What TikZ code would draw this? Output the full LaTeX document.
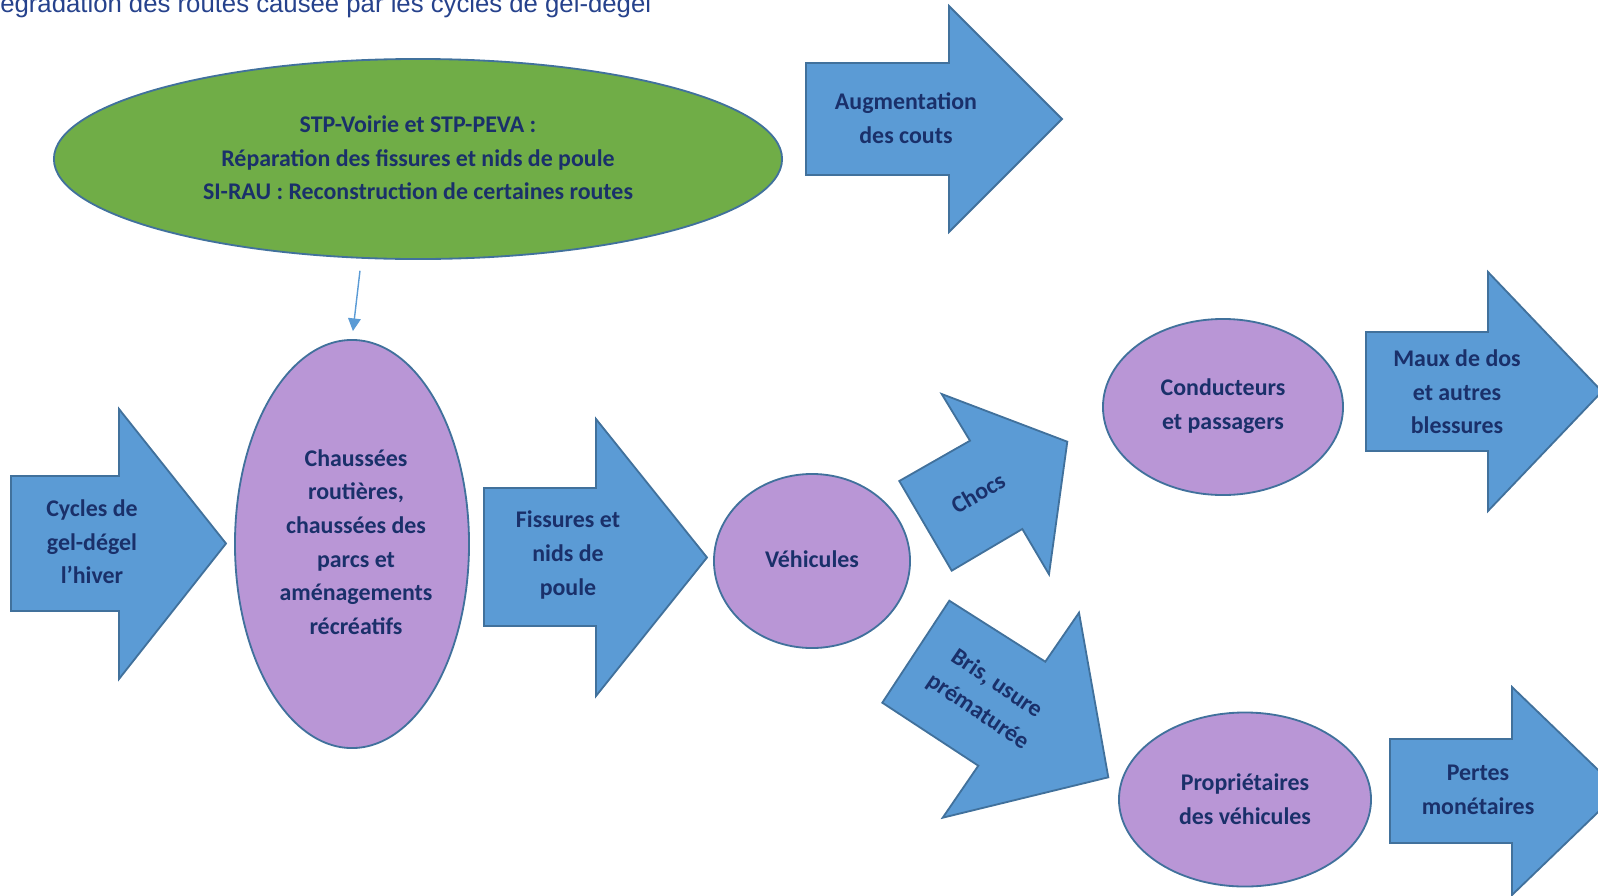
\documentclass[tikz,border=0pt]{standalone}
\usepackage{fontspec}
\setmainfont{Carlito}
\newfontfamily\titlefont{Liberation Sans}
\usetikzlibrary{shapes.geometric, arrows.meta}
\definecolor{arrowblue}{RGB}{91,155,213}
\definecolor{edgeblue}{RGB}{65,113,156}
\definecolor{lilac}{RGB}{185,150,214}
\definecolor{leafgreen}{RGB}{112,173,71}
\definecolor{navytext}{RGB}{26,48,106}
\definecolor{titleblue}{RGB}{38,66,140}

\begin{document}
\begin{tikzpicture}[
        x=0.025cm, y=-0.025cm,
        bigarrow/.style={draw=edgeblue, fill=arrowblue, line width=1.3pt, line join=miter},
        oval/.style={ellipse, draw=edgeblue, fill=lilac, line width=1.3pt, inner sep=0pt},
        inside/.style={text=navytext, font=\fontsize{17}{23.9}\selectfont\bfseries, align=center, inner sep=0pt},
        link/.style={-{Triangle[width=9pt, length=9pt]}, draw=arrowblue, line width=1pt}
    ]
        \useasboundingbox (0,0) rectangle (1598,895);
        \clip (0,0) rectangle (1598,895);

        % Title (cut at the edge)
        \node[anchor=base west, inner sep=0pt, text=titleblue, font=\titlefont\fontsize{18.3}{22}\selectfont] (title) at (0,12) {égradation des routes causée par les cycles de gel-dégel};

        % Left part
        \draw[bigarrow] (11,476) -- (119,476) -- (119,409) -- (226,543.5) -- (119,679) -- (119,611) -- (11,611) -- cycle;
        \node[inside] (cycles) at (92,542) {Cycles de\\gel-dégel\\l’hiver};

        \node[oval, minimum width=5.85cm, minimum height=10.2cm] (chaussees) at (352,544) {};
        \node[inside] (chaussees_t) at (356,542) {Chaussées\\routières,\\chaussées des\\parcs et\\aménagements\\récréatifs};

        \node[oval, fill=leafgreen, minimum width=18.2cm, minimum height=5cm] (travaux) at (418,159) {};
        \node[inside] (travaux_t) at (418,158) {STP-Voirie et STP-PEVA :\\Réparation des fissures et nids de poule\\SI-RAU : Reconstruction de certaines routes};

        \draw[link, shorten >=5.7pt] ([xshift=-1.45cm, yshift=-0.27cm]travaux.south) -- (chaussees.north);

        \draw[bigarrow] (484,488) -- (596,488) -- (596,419) -- (707,557.5) -- (596,696) -- (596,626) -- (484,626) -- cycle;
        \node[inside] (fissures) at (568,555) {Fissures et\\nids de\\poule};

        \draw[bigarrow] (806,63) -- (949,63) -- (949,6) -- (1062,119) -- (949,232) -- (949,175) -- (806,175) -- cycle;
        \node[inside] (couts) at (906,118) {Augmentation\\des couts};

        % Middle part
        \node[oval, minimum width=4.9cm, minimum height=4.35cm] (vehicules) at (812,561) {};
        \node[inside] (vehicules_t) at (812,559) {Véhicules};

        \draw[bigarrow] (941.7,394) -- (970,440.7) -- (899.3,481) -- (951.7,570.7) -- (1022.3,529) -- (1049,574.3) -- (1067.3,441.7) -- cycle;
        \node[inside, rotate=30] (chocs) at (978,493) {Chocs};

        \draw[bigarrow] (949.3,600.7) -- (1045.3,661.7) -- (1079,612.7) -- (1108.3,777.3) -- (942.7,817.7) -- (978.3,765.7) -- (882.3,702.7) -- cycle;
        \node[inside, rotate=-34] (bris) at (987,698) {Bris, usure\\prématurée};

        % Right part
        \node[oval, minimum width=6cm, minimum height=4.4cm] (conducteurs) at (1223,407) {};
        \node[inside] (conducteurs_t) at (1223,406) {Conducteurs\\et passagers};

        \draw[bigarrow] (1366,332) -- (1488,332) -- (1488,272) -- (1602,391.5) -- (1488,511) -- (1488,451) -- (1366,451) -- cycle;
        \node[inside] (maux) at (1457,392) {Maux de dos\\et autres\\blessures};

        \node[oval, minimum width=6.3cm, minimum height=4.35cm] (proprio) at (1245,799.5) {};
        \node[inside] (proprio_t) at (1245,799) {Propriétaires\\des véhicules};

        \draw[bigarrow] (1390,739) -- (1512,739) -- (1512,687) -- (1620,791) -- (1512,895) -- (1512,843) -- (1390,843) -- cycle;
        \node[inside] (pertes) at (1478,790) {Pertes\\monétaires};
    \end{tikzpicture}
\end{document}
